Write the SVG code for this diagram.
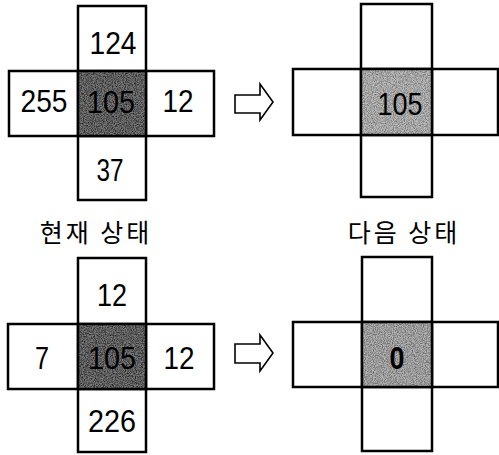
<svg xmlns="http://www.w3.org/2000/svg" width="499" height="455" viewBox="0 0 499 455">
<style>
.cell{fill:#fff;stroke:#000;stroke-width:2.5}
.num{font-family:"Liberation Sans",Arial,sans-serif;font-size:31px;fill:#000;text-anchor:middle}
.lbl{font-family:"Noto Sans CJK KR","Noto Sans",sans-serif;font-size:25px;fill:#000;text-anchor:middle;letter-spacing:3px}
.arrow{fill:#fff;stroke:#000;stroke-width:1.6;stroke-linejoin:miter}
</style>
<defs>
<filter id="grain" x="0" y="0" width="100%" height="100%">
<feTurbulence type="fractalNoise" baseFrequency="0.9" numOctaves="2" seed="4" result="t"/>
<feColorMatrix in="t" type="matrix" values="0 0 0 0 0  0 0 0 0 0  0 0 0 0 0  1.6 0 0 0 -0.55" result="n"/>
<feComposite in="n" in2="SourceGraphic" operator="in"/>
</filter>
</defs>
<rect width="499" height="455" fill="#fff"/>

<g id="cross-top-left">
<rect class="cell" x="78" y="6" width="68" height="65"/>
<rect class="cell" x="9" y="71" width="69" height="65"/>
<rect class="cell" x="146" y="71" width="68" height="65"/>
<rect class="cell" x="78" y="136" width="68" height="64"/>
<rect x="78" y="71" width="68" height="65" fill="#7a7a7a"/>
<rect x="78" y="71" width="68" height="65" fill="#000" filter="url(#grain)"/>
<rect x="78" y="71" width="68" height="65" fill="none" stroke="#000" stroke-width="2.5"/>
<text class="num" x="113" y="54" textLength="47" lengthAdjust="spacingAndGlyphs">124</text>
<text class="num" x="44" y="112" textLength="47" lengthAdjust="spacingAndGlyphs">255</text>
<text class="num" x="111" y="113" fill="#2a2a2a" textLength="48" lengthAdjust="spacingAndGlyphs">105</text>
<text class="num" x="178" y="112" textLength="31" lengthAdjust="spacingAndGlyphs">12</text>
<text class="num" x="110" y="181" textLength="27" lengthAdjust="spacingAndGlyphs">37</text>
</g>

<g id="cross-top-right">
<rect class="cell" x="361" y="4" width="71" height="65"/>
<rect class="cell" x="293" y="69" width="68" height="66"/>
<rect class="cell" x="432" y="69" width="66" height="66"/>
<rect class="cell" x="361" y="135" width="71" height="62"/>
<rect x="361" y="69" width="71" height="66" fill="#bdbdbd"/>
<rect x="361" y="69" width="71" height="66" fill="#000" filter="url(#grain)" opacity="0.55"/>
<rect x="361" y="69" width="71" height="66" fill="none" stroke="#000" stroke-width="2.5"/>
<text class="num" x="400" y="115" textLength="45" lengthAdjust="spacingAndGlyphs">105</text>
</g>

<g id="cross-bottom-left">
<rect class="cell" x="78" y="258" width="68" height="66"/>
<rect class="cell" x="8" y="324" width="70" height="65"/>
<rect class="cell" x="146" y="324" width="68" height="65"/>
<rect class="cell" x="78" y="389" width="68" height="63"/>
<rect x="78" y="324" width="68" height="65" fill="#7a7a7a"/>
<rect x="78" y="324" width="68" height="65" fill="#000" filter="url(#grain)"/>
<rect x="78" y="324" width="68" height="65" fill="none" stroke="#000" stroke-width="2.5"/>
<text class="num" x="112" y="306" textLength="30" lengthAdjust="spacingAndGlyphs">12</text>
<text class="num" x="42" y="369" textLength="14" lengthAdjust="spacingAndGlyphs">7</text>
<text class="num" x="112" y="369" fill="#2a2a2a" textLength="48" lengthAdjust="spacingAndGlyphs">105</text>
<text class="num" x="179" y="369" textLength="31" lengthAdjust="spacingAndGlyphs">12</text>
<text class="num" x="112" y="432" textLength="48" lengthAdjust="spacingAndGlyphs">226</text>
</g>

<g id="cross-bottom-right">
<rect class="cell" x="362" y="257" width="70" height="65"/>
<rect class="cell" x="293" y="322" width="69" height="65"/>
<rect class="cell" x="432" y="322" width="66" height="65"/>
<rect class="cell" x="362" y="387" width="70" height="64"/>
<rect x="362" y="322" width="70" height="65" fill="#b4b4b4"/>
<rect x="362" y="322" width="70" height="65" fill="#000" filter="url(#grain)" opacity="0.6"/>
<rect x="362" y="322" width="70" height="65" fill="none" stroke="#000" stroke-width="2.5"/>
<text class="num" x="397" y="369" font-weight="bold" textLength="15" lengthAdjust="spacingAndGlyphs">0</text>
</g>

<g id="label-current">
<text class="lbl" x="96" y="242">현재 상태</text>
</g>
<g id="label-next">
<text class="lbl" x="404" y="242">다음 상태</text>
</g>

<g id="connectors">
<polygon class="arrow" points="235,95 260,95 260,84 273,102 260,120 260,113 235,113"/>
<polygon class="arrow" points="235,344 260,344 260,335 273,353 260,371 260,363 235,363"/>
</g>
</svg>
